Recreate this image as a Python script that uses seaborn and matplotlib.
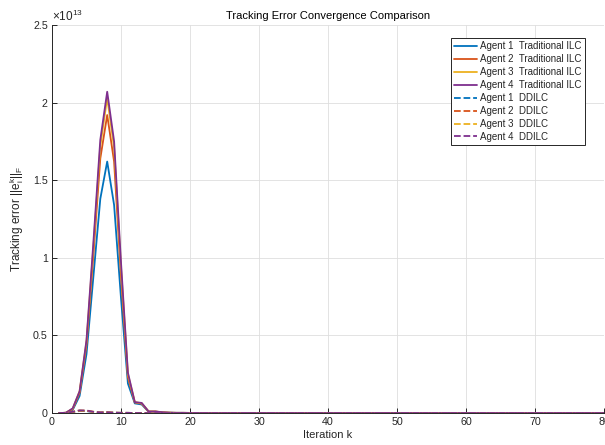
import numpy as np
import pandas as pd
import seaborn as sns
import matplotlib
matplotlib.use("Agg")
import matplotlib.pyplot as plt
from matplotlib.ticker import ScalarFormatter, MultipleLocator

# ---------------- data (values in units of 1e13) ----------------
SCALE = 1e13
iterations = list(range(1, 81))

trad_agent1 = [0, 0.001, 0.02, 0.11, 0.38, 0.88, 1.38, 1.62, 1.34, 0.74,
               0.19, 0.062, 0.055, 0.008, 0.008, 0.003, 0.002, 0.001, 0.001, 0.0005,
               0, 0, 0, 0, 0, 0, 0, 0, 0, 0,
               0, 0, 0, 0, 0, 0, 0, 0, 0, 0,
               0, 0, 0, 0, 0, 0, 0, 0, 0, 0,
               0, 0, 0, 0, 0, 0, 0, 0, 0, 0,
               0, 0, 0, 0, 0, 0, 0, 0, 0, 0,
               0, 0, 0, 0, 0, 0, 0, 0, 0, 0]
trad_agent2 = [0, 0.001, 0.025, 0.13, 0.44, 1.02, 1.64, 1.92, 1.62, 0.88,
               0.23, 0.068, 0.06, 0.009, 0.009, 0.004, 0.002, 0.001, 0.001, 0.0005,
               0, 0, 0, 0, 0, 0, 0, 0, 0, 0,
               0, 0, 0, 0, 0, 0, 0, 0, 0, 0,
               0, 0, 0, 0, 0, 0, 0, 0, 0, 0,
               0, 0, 0, 0, 0, 0, 0, 0, 0, 0,
               0, 0, 0, 0, 0, 0, 0, 0, 0, 0,
               0, 0, 0, 0, 0, 0, 0, 0, 0, 0]
trad_agent3 = [0, 0.001, 0.028, 0.14, 0.46, 1.07, 1.72, 2.03, 1.71, 0.94,
               0.25, 0.07, 0.063, 0.01, 0.01, 0.004, 0.002, 0.001, 0.001, 0.0005,
               0, 0, 0, 0, 0, 0, 0, 0, 0, 0,
               0, 0, 0, 0, 0, 0, 0, 0, 0, 0,
               0, 0, 0, 0, 0, 0, 0, 0, 0, 0,
               0, 0, 0, 0, 0, 0, 0, 0, 0, 0,
               0, 0, 0, 0, 0, 0, 0, 0, 0, 0,
               0, 0, 0, 0, 0, 0, 0, 0, 0, 0]
trad_agent4 = [0, 0.001, 0.03, 0.14, 0.47, 1.10, 1.76, 2.07, 1.75, 0.97,
               0.26, 0.07, 0.065, 0.01, 0.01, 0.005, 0.002, 0.001, 0.001, 0.0005,
               0, 0, 0, 0, 0, 0, 0, 0, 0, 0,
               0, 0, 0, 0, 0, 0, 0, 0, 0, 0,
               0, 0, 0, 0, 0, 0, 0, 0, 0, 0,
               0, 0, 0, 0, 0, 0, 0, 0, 0, 0,
               0, 0, 0, 0, 0, 0, 0, 0, 0, 0,
               0, 0, 0, 0, 0, 0, 0, 0, 0, 0]

ddilc_agent1 = [0, 0.001, 0.006, 0.013, 0.012, 0.006, 0.003, 0.004, 0.002, 0.001,
                0.001, 0, 0, 0, 0, 0, 0, 0, 0, 0,
                0, 0, 0, 0, 0, 0, 0, 0, 0, 0,
                0, 0, 0, 0, 0, 0, 0, 0, 0, 0,
                0, 0, 0, 0, 0, 0, 0, 0, 0, 0,
                0, 0, 0, 0, 0, 0, 0, 0, 0, 0,
                0, 0, 0, 0, 0, 0, 0, 0, 0, 0,
                0, 0, 0, 0, 0, 0, 0, 0, 0, 0]
ddilc_agent2 = [0, 0.001, 0.007, 0.015, 0.014, 0.007, 0.003, 0.004, 0.002, 0.001,
                0.001, 0, 0, 0, 0, 0, 0, 0, 0, 0,
                0, 0, 0, 0, 0, 0, 0, 0, 0, 0,
                0, 0, 0, 0, 0, 0, 0, 0, 0, 0,
                0, 0, 0, 0, 0, 0, 0, 0, 0, 0,
                0, 0, 0, 0, 0, 0, 0, 0, 0, 0,
                0, 0, 0, 0, 0, 0, 0, 0, 0, 0,
                0, 0, 0, 0, 0, 0, 0, 0, 0, 0]
ddilc_agent3 = [0, 0.001, 0.008, 0.016, 0.015, 0.008, 0.004, 0.005, 0.002, 0.001,
                0.001, 0, 0, 0, 0, 0, 0, 0, 0, 0,
                0, 0, 0, 0, 0, 0, 0, 0, 0, 0,
                0, 0, 0, 0, 0, 0, 0, 0, 0, 0,
                0, 0, 0, 0, 0, 0, 0, 0, 0, 0,
                0, 0, 0, 0, 0, 0, 0, 0, 0, 0,
                0, 0, 0, 0, 0, 0, 0, 0, 0, 0,
                0, 0, 0, 0, 0, 0, 0, 0, 0, 0]
ddilc_agent4 = [0, 0.001, 0.008, 0.017, 0.016, 0.008, 0.004, 0.005, 0.002, 0.001,
                0.001, 0, 0, 0, 0, 0, 0, 0, 0, 0,
                0, 0, 0, 0, 0, 0, 0, 0, 0, 0,
                0, 0, 0, 0, 0, 0, 0, 0, 0, 0,
                0, 0, 0, 0, 0, 0, 0, 0, 0, 0,
                0, 0, 0, 0, 0, 0, 0, 0, 0, 0,
                0, 0, 0, 0, 0, 0, 0, 0, 0, 0,
                0, 0, 0, 0, 0, 0, 0, 0, 0, 0]

agent_names = ["Agent 1", "Agent 2", "Agent 3", "Agent 4"]
method_names = ["Traditional ILC", "DDILC"]
colors = ["#0072BD", "#D95319", "#EDB120", "#7E2F8E"]

series = {
    ("Traditional ILC", 0): trad_agent1,
    ("Traditional ILC", 1): trad_agent2,
    ("Traditional ILC", 2): trad_agent3,
    ("Traditional ILC", 3): trad_agent4,
    ("DDILC", 0): ddilc_agent1,
    ("DDILC", 1): ddilc_agent2,
    ("DDILC", 2): ddilc_agent3,
    ("DDILC", 3): ddilc_agent4,
}

# ---------------- style ----------------
sns.set_theme(style="white")
plt.rcParams["font.family"] = ["Liberation Sans", "DejaVu Sans"]
plt.rcParams["mathtext.fontset"] = "custom"
plt.rcParams["mathtext.rm"] = "Liberation Sans"
plt.rcParams["mathtext.it"] = "Liberation Sans:italic"
plt.rcParams["mathtext.bf"] = "Liberation Sans:bold"

fig = plt.figure(figsize=(6.05, 4.45), dpi=100)
ax = fig.add_axes([52 / 605, 1 - 413 / 445, 552 / 605, 388 / 445])

for method in method_names:
    ls = "-" if method == "Traditional ILC" else "--"
    for i, agent in enumerate(agent_names):
        vals = np.array(series[(method, i)]) * SCALE
        df = pd.DataFrame({"k": iterations, "err": vals})
        sns.lineplot(data=df, x="k", y="err", ax=ax, color=colors[i],
                     linestyle=ls, linewidth=1.3,
                     label=f"{agent}  {method}", legend=False)

ax.set_xlim(0, 80)
ax.set_ylim(0, 2.5e13)
ax.xaxis.set_major_locator(MultipleLocator(10))
ax.yaxis.set_major_locator(MultipleLocator(0.5e13))


class GFormatter(ScalarFormatter):
    def _set_format(self):
        self.format = "%g"


fmt = GFormatter(useMathText=True)
fmt.set_powerlimits((0, 0))
ax.yaxis.set_major_formatter(fmt)
ax.yaxis.get_offset_text().set_fontsize(8.5)
ax.yaxis.get_offset_text().set_color("#262626")

ax.grid(True, color="#dedede", linewidth=0.6)
ax.set_axisbelow(True)
for s in ["top", "right"]:
    ax.spines[s].set_visible(False)
for s in ["left", "bottom"]:
    ax.spines[s].set_color("#262626")
    ax.spines[s].set_linewidth(0.7)

ax.tick_params(axis="both", direction="in", length=3.5, width=0.7,
               colors="#262626", labelsize=7.7, pad=3,
               left=True, bottom=True)

ax.set_title("Tracking Error Convergence Comparison", fontsize=8, color="#000000", pad=4)
ax.set_xlabel("Iteration k", fontsize=8, color="#262626", labelpad=2)
ax.set_ylabel(r"Tracking error ||e$_{\mathrm{i}}^{\mathrm{k}}$||$_{\mathrm{F}}$",
              fontsize=8.5, color="#262626", labelpad=5)

handles, labels = ax.get_legend_handles_labels()
leg = ax.legend(handles, labels, loc="upper right", fontsize=7, frameon=True, fancybox=False,
                edgecolor="#262626", framealpha=1, handlelength=2.4, handletextpad=0.3,
                borderpad=0.35, labelspacing=0.3, borderaxespad=0)
leg.get_frame().set_linewidth(0.7)
leg.set_bbox_to_anchor((585 / 605, 1 - 38 / 445), transform=fig.transFigure)

fig.savefig("out.png", dpi=100)
